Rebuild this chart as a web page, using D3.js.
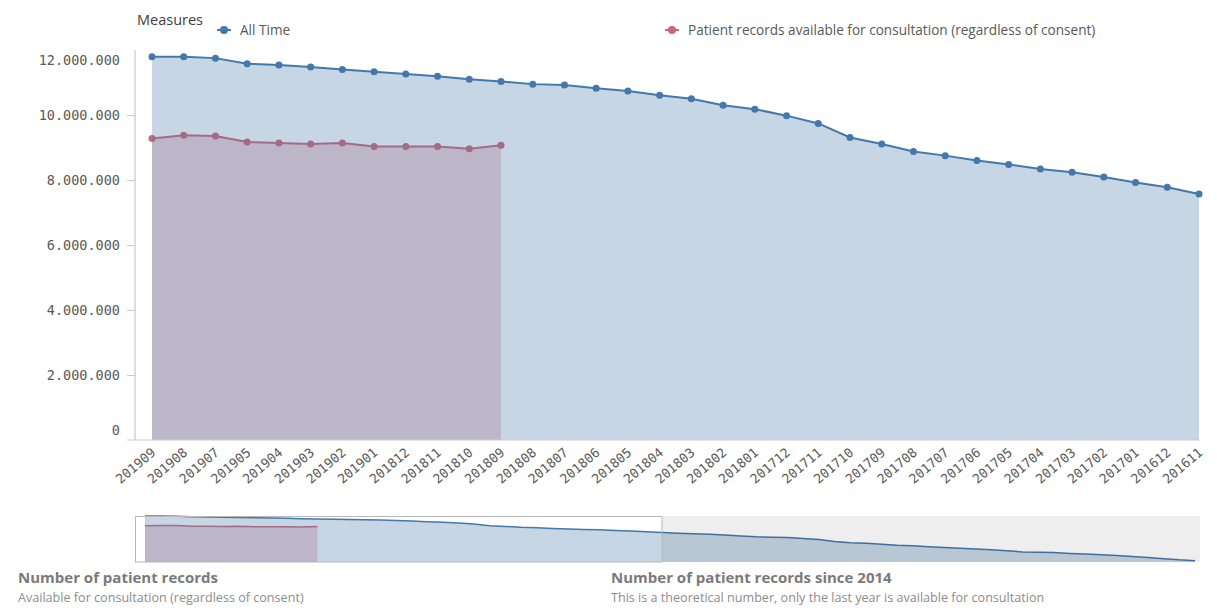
<!DOCTYPE html>
<html>
<head>
<meta charset="utf-8">
<script src="https://cdn.jsdelivr.net/npm/d3@7"></script>
<style>
  html, body { margin: 0; padding: 0; background: #ffffff; }
  svg { display: block; }
</style>
</head>
<body>
<svg id="chart" width="1217" height="613"></svg>
<script>
// ---------- DATA ----------
const months = [
  "201909","201908","201907","201905","201904","201903","201902","201901",
  "201812","201811","201810","201809","201808","201807","201806","201805",
  "201804","201803","201802","201801","201712","201711","201710","201709",
  "201708","201707","201706","201705","201704","201703","201702","201701",
  "201612","201611",
  "201610","201609","201608","201607","201606","201605","201604","201603",
  "201602","201601","201512","201511","201510","201509","201508","201507",
  "201506","201505","201504","201503","201502","201501","201412","201411",
  "201410","201409","201408","201407","201406","201405","201404","201403",
  "201402","201401"
];
const visibleCount = 34;
const allTime = [
  11790000, 11790000, 11750000, 11580000, 11540000, 11480000, 11400000, 11330000,
  11260000, 11190000, 11100000, 11030000, 10950000, 10920000, 10820000, 10740000,
  10610000, 10500000, 10300000, 10180000, 9980000, 9740000, 9310000, 9110000,
  8880000, 8750000, 8600000, 8480000, 8340000, 8240000, 8090000, 7920000,
  7780000, 7570000,
  7370000, 7250000, 7120000, 6950000, 6690000, 6480000, 6360000, 6270000,
  6020000, 5760000, 5250000, 4960000, 4790000, 4580000, 4320000, 4150000,
  3940000, 3690000, 3520000, 3350000, 3140000, 2880000, 2580000, 2500000,
  2420000, 2200000, 2030000, 1860000, 1650000, 1440000, 1140000, 850000,
  550000, 340000
];
const patientRecords = [
  9280000, 9375000, 9354000, 9170000, 9140000, 9110000, 9140000, 9030000,
  9030000, 9030000, 8960000, 9070000
];
const yTicks = [0, 2000000, 4000000, 6000000, 8000000, 10000000, 12000000];
const legendTitle = "Measures";
const seriesNames = ["All Time", "Patient records available for consultation (regardless of consent)"];
const titleLeft = "Number of patient records";
const subLeft = "Available for consultation (regardless of consent)";
const titleRight = "Number of patient records since 2014";
const subRight = "This is a theoretical number, only the last year is available for consultation";

// ---------- STYLE ----------
const BLUE = "#4477aa", RED = "#cc6677";
const SANS = "Open Sans";
const svg = d3.select("#chart");
const locale = d3.formatLocale({decimal: ",", thousands: ".", grouping: [3], currency: ["", ""]});
const fmt = locale.format(",d");

// ---------- MAIN CHART ----------
const visMonths = months.slice(0, visibleCount);
const x = d3.scalePoint().domain(visMonths).range([152, 1199]);
const y = d3.scaleLinear().domain([0, 12000000]).range([440, 50]);

const main = svg.append("g");

// areas & lines: red first, blue on top (semi-transparent)
const redData = patientRecords.map((v, i) => ({k: months[i], v}));
const blueData = allTime.slice(0, visibleCount).map((v, i) => ({k: months[i], v}));

const area = d3.area().x(d => x(d.k)).y0(y(0)).y1(d => y(d.v));
const line = d3.line().x(d => x(d.k)).y(d => y(d.v));

main.append("path").datum(redData).attr("d", area).attr("fill", RED).attr("fill-opacity", 0.3);
main.append("path").datum(redData).attr("d", line).attr("fill", "none").attr("stroke", RED).attr("stroke-width", 2);
main.append("g").selectAll("circle").data(redData).join("circle")
  .attr("cx", d => x(d.k)).attr("cy", d => y(d.v)).attr("r", 3.5).attr("fill", RED);

main.append("path").datum(blueData).attr("d", area).attr("fill", BLUE).attr("fill-opacity", 0.3);
main.append("path").datum(blueData).attr("d", line).attr("fill", "none").attr("stroke", BLUE).attr("stroke-width", 2);
main.append("g").selectAll("circle").data(blueData).join("circle")
  .attr("cx", d => x(d.k)).attr("cy", d => y(d.v)).attr("r", 3.5).attr("fill", BLUE);

// Y axis
const yAxisG = svg.append("g").attr("transform", "translate(135,0)")
  .call(d3.axisLeft(y).tickValues(yTicks).tickFormat(fmt).tickSize(8).tickPadding(7));
yAxisG.select(".domain").attr("stroke", "#bdbdbd").attr("d", `M0,${y(12000000)}V${y(0)}`);
yAxisG.selectAll(".tick line").attr("stroke", "#cccccc")
  .attr("display", d => (d === 0 || d === 12000000) ? "none" : null);
yAxisG.selectAll(".tick text")
  .attr("font-family", "DejaVu Sans Mono").attr("font-size", 13.5).attr("fill", "#595959")
  .attr("dy", d => d === 12000000 ? "1.05em" : d === 0 ? "-0.4em" : "0.32em");

// X axis
const xAxisG = svg.append("g").attr("transform", `translate(0,${y(0)})`)
  .call(d3.axisBottom(x).tickSize(0).tickPadding(0));
xAxisG.select(".domain").attr("stroke", "#cccccc").attr("d", `M127,0H1200`);
xAxisG.selectAll(".tick text")
  .attr("font-family", "DejaVu Sans Mono").attr("font-size", 13).attr("fill", "#595959")
  .attr("text-anchor", "end")
  .attr("dy", null).attr("y", 0)
  .attr("transform", "translate(4,14) rotate(-40)");

// Legend
svg.append("text").attr("x", 137).attr("y", 25).text(legendTitle)
  .attr("font-family", SANS).attr("font-size", 14.5).attr("fill", "#404040");
const legendItems = [{x: 224, c: BLUE, t: seriesNames[0]}, {x: 672, c: RED, t: seriesNames[1]}];
legendItems.forEach(it => {
  const g = svg.append("g").attr("transform", `translate(${it.x},30)`);
  g.append("line").attr("x1", -7).attr("x2", 7).attr("stroke", it.c).attr("stroke-width", 2);
  g.append("circle").attr("r", 4).attr("fill", it.c);
  g.append("text").attr("x", 16).attr("y", 4.5).text(it.t)
    .attr("font-family", SANS).attr("font-size", 13.6).attr("fill", "#595959");
});

// ---------- MINI (SCROLL) CHART ----------
const mx = d3.scalePoint().domain(months).range([145, 1195]);
const my = d3.scaleLinear().domain([0, d3.max(allTime)]).range([562, 516]);
const mini = svg.append("g");
const winRight = 662;
const mBlue = allTime.map((v, i) => ({k: months[i], v}));
const mArea = d3.area().x(d => mx(d.k)).y0(my(0)).y1(d => my(d.v));
const mLine = d3.line().x(d => mx(d.k)).y(d => my(d.v));
mini.append("path").datum(redData).attr("d", mArea).attr("fill", RED).attr("fill-opacity", 0.3);
mini.append("path").datum(redData).attr("d", mLine).attr("fill", "none").attr("stroke", RED).attr("stroke-width", 1.5);
mini.append("path").datum(mBlue).attr("d", mArea).attr("fill", BLUE).attr("fill-opacity", 0.3);
mini.append("path").datum(mBlue).attr("d", mLine).attr("fill", "none").attr("stroke", BLUE).attr("stroke-width", 1.5);
// dim overlay outside the selected window
mini.append("rect").attr("x", winRight).attr("y", 516).attr("width", 1200 - winRight).attr("height", 46)
  .attr("fill", "#000").attr("fill-opacity", 0.066);
// window border
mini.append("rect").attr("x", 135.5).attr("y", 516.5).attr("width", winRight - 135.5).attr("height", 45.5)
  .attr("fill", "none").attr("stroke", "#b8b8b8").attr("stroke-width", 1);

// ---------- FOOTER TEXTS ----------
const foot = [
  {x: 18, t: titleLeft, s: subLeft},
  {x: 611, t: titleRight, s: subRight}
];
foot.forEach(f => {
  svg.append("text").attr("x", f.x).attr("y", 583).text(f.t)
    .attr("font-family", SANS).attr("font-weight", "bold").attr("font-size", 15).attr("fill", "#7a7a7a");
  svg.append("text").attr("x", f.x).attr("y", 602).text(f.s)
    .attr("font-family", SANS).attr("font-size", 12.6).attr("fill", "#8c8c8c");
});
</script>
</body>
</html>
